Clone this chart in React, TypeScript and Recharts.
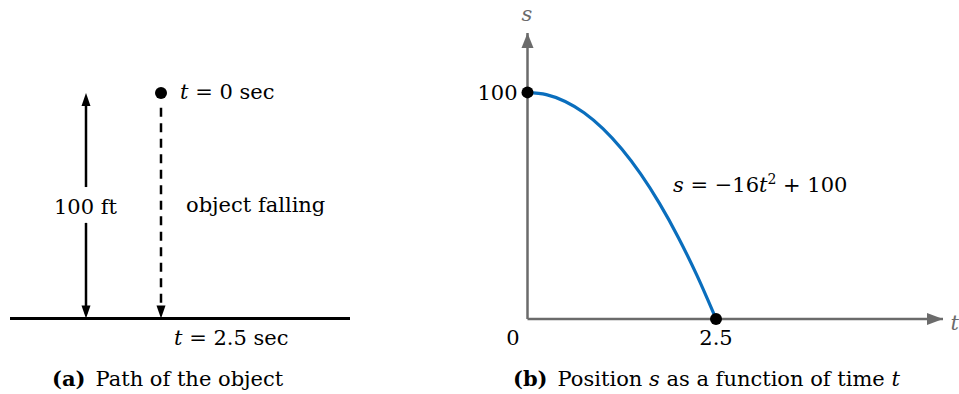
import React from 'react';
import {
  ComposedChart,
  Line,
  Scatter,
  XAxis,
  YAxis,
  ReferenceLine,
} from 'recharts';

const FONT = '"DejaVu Serif", serif';
const AXIS_GRAY = '#6b6b6b';
const CURVE_BLUE = '#0a6ebd';
const FS = 21;

// ---- Panel (b): position s (ft) as a function of time t (sec) ----
const timeValues = [0, 0.25, 0.5, 0.75, 1, 1.25, 1.5, 1.75, 2, 2.25, 2.5];
const positionValues = [100, 99, 96, 91, 84, 75, 64, 51, 36, 19, 0];
const markedTimes = [0, 2.5];
const markedPositions = [100, 0];
const xTicks = [0, 2.5];
const yTicks = [100];
const tDomain = [0, 5.51];
const sDomain = [0, 126.2];

// ---- Panel (a): path of the object (diagram units, height in ft) ----
const diagramDomainX = [0, 360];
const heightDomain = [0, 100];
const groundX = [10, 350];
const measureX = 86;
const fallX = 161;
const startHeight = 100;
const groundHeight = 0;

const curveData = timeValues.map((t, i) => ({ t, s: positionValues[i] }));
const markedData = markedTimes.map((t, i) => ({ t, s: markedPositions[i] }));

type Dir = 'up' | 'down' | 'right';
const arrowShape = (dir: Dir, len: number, half: number, color: string) => (props: any) => {
  const { cx, cy } = props;
  let pts = '';
  if (dir === 'up') pts = `${cx},${cy} ${cx - half},${cy + len} ${cx + half},${cy + len}`;
  if (dir === 'down') pts = `${cx},${cy} ${cx - half},${cy - len} ${cx + half},${cy - len}`;
  if (dir === 'right') pts = `${cx},${cy} ${cx - len},${cy - half} ${cx - len},${cy + half}`;
  return <polygon points={pts} fill={color} />;
};

const dotShape = (r: number, color: string) => (props: any) => (
  <circle cx={props.cx} cy={props.cy} r={r} fill={color} />
);

const XTick = (props: any) => {
  const { x, y, payload } = props;
  const shift = payload.value === 0 ? -14.5 : 0;
  return (
    <text x={x + shift} y={y} dy="0.71em" textAnchor="middle" fill="#000" fontSize={FS} fontFamily={FONT}>
      {payload.value}
    </text>
  );
};

const textStyle = { fontFamily: FONT, fontSize: FS, fill: '#000' } as const;

function PanelA() {
  return (
    <ComposedChart width={360} height={394} margin={{ top: 93, right: 0, bottom: 75.5, left: 0 }}>
      <XAxis type="number" dataKey="x" domain={diagramDomainX} hide />
      <YAxis type="number" dataKey="y" domain={heightDomain} hide />
      {/* ground */}
      <ReferenceLine
        segment={[{ x: groundX[0], y: groundHeight }, { x: groundX[1], y: groundHeight }]}
        stroke="#000"
        strokeWidth={3}
        ifOverflow="visible"
      />
      {/* 100 ft measurement arrow, split around its label */}
      <ReferenceLine
        segment={[{ x: measureX, y: 96 }, { x: measureX, y: 58.3 }]}
        stroke="#000"
        strokeWidth={2.5}
        ifOverflow="visible"
      />
      <ReferenceLine
        segment={[{ x: measureX, y: 42.4 }, { x: measureX, y: 2 }]}
        stroke="#000"
        strokeWidth={2.5}
        ifOverflow="visible"
      />
      {/* falling path */}
      <ReferenceLine
        segment={[{ x: fallX, y: 93.5 }, { x: fallX, y: 6 }]}
        stroke="#000"
        strokeWidth={2.5}
        strokeDasharray="9 6.5"
        ifOverflow="visible"
      />
      <Scatter
        data={[{ x: measureX, y: startHeight }]}
        shape={arrowShape('up', 13, 4.5, '#000')}
        isAnimationActive={false}
      />
      <Scatter
        data={[{ x: measureX, y: groundHeight }, { x: fallX, y: groundHeight }]}
        shape={arrowShape('down', 13, 4.5, '#000')}
        isAnimationActive={false}
      />
      <Scatter
        data={[{ x: fallX, y: startHeight }]}
        shape={dotShape(6, '#000')}
        isAnimationActive={false}
      />
      <text x={180} y={99} {...textStyle}>
        <tspan fontStyle="italic">t</tspan> = 0 sec
      </text>
      <text x={85.5} y={214} textAnchor="middle" {...textStyle}>
        100 ft
      </text>
      <text x={186} y={211.5} {...textStyle}>
        object falling
      </text>
      <text x={174} y={345} {...textStyle}>
        <tspan fontStyle="italic">t</tspan> = 2.5 sec
      </text>
      <text x={52} y={386} {...textStyle}>
        <tspan fontWeight="bold">(a)</tspan>
        <tspan dx={10}>Path of the object</tspan>
      </text>
    </ComposedChart>
  );
}

function PanelB() {
  return (
    <ComposedChart width={499} height={394} margin={{ top: 33, right: 16, bottom: 35, left: 7.5 }}>
      <XAxis
        type="number"
        dataKey="t"
        domain={tDomain}
        ticks={xTicks}
        height={40}
        tickLine={false}
        tickSize={0}
        tickMargin={11}
        axisLine={{ stroke: AXIS_GRAY, strokeWidth: 2.5 }}
        tick={<XTick />}
      />
      <YAxis
        type="number"
        dataKey="s"
        domain={sDomain}
        ticks={yTicks}
        width={60}
        tickLine={false}
        tickSize={0}
        tickMargin={10}
        axisLine={{ stroke: AXIS_GRAY, strokeWidth: 2.5 }}
        tick={{ fill: '#000', fontSize: FS, fontFamily: FONT }}
      />
      <Scatter
        data={[{ t: tDomain[0], s: sDomain[1] }]}
        shape={arrowShape('up', 15, 6, AXIS_GRAY)}
        isAnimationActive={false}
      />
      <Scatter
        data={[{ t: tDomain[1], s: sDomain[0] }]}
        shape={arrowShape('right', 16, 6, AXIS_GRAY)}
        isAnimationActive={false}
      />
      <Line
        data={curveData}
        dataKey="s"
        type="monotone"
        stroke={CURVE_BLUE}
        strokeWidth={3.2}
        dot={false}
        activeDot={false}
        isAnimationActive={false}
      />
      <Scatter data={markedData} shape={dotShape(6, '#000')} isAnimationActive={false} />
      <text x={67} y={20.7} textAnchor="middle" fontFamily={FONT} fontSize={FS} fontStyle="italic" fill={AXIS_GRAY}>
        s
      </text>
      <text x={490.5} y={330} fontFamily={FONT} fontSize={FS} fontStyle="italic" fill={AXIS_GRAY}>
        t
      </text>
      <text x={213} y={191.7} {...textStyle}>
        <tspan fontStyle="italic">s</tspan> = −16<tspan fontStyle="italic">t</tspan>
        <tspan dy={-8} fontSize={14}>2</tspan>
        <tspan dy={8}> + 100</tspan>
      </text>
      <text x={53} y={386} {...textStyle}>
        <tspan fontWeight="bold">(b)</tspan>
        <tspan dx={10}>Position </tspan>
        <tspan fontStyle="italic">s</tspan>
        <tspan> as a function of time </tspan>
        <tspan fontStyle="italic">t</tspan>
      </text>
    </ComposedChart>
  );
}

export default function App() {
  return (
    <div style={{ position: 'absolute', left: 0, top: 0, width: 959, height: 394, background: '#fff' }}>
      <div style={{ position: 'absolute', left: 0, top: 0 }}>
        <PanelA />
      </div>
      <div style={{ position: 'absolute', left: 460, top: 0 }}>
        <PanelB />
      </div>
    </div>
  );
}
